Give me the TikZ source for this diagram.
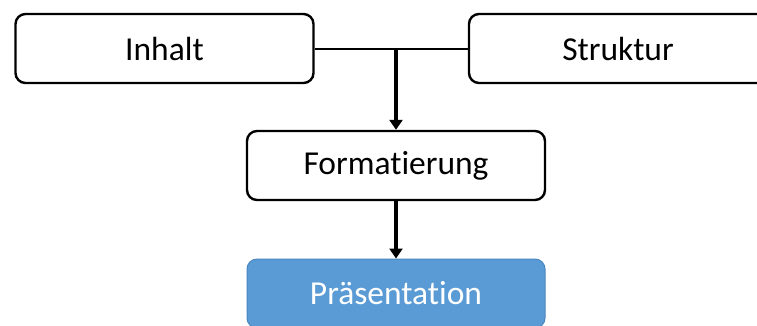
\documentclass[tikz,border=0pt]{standalone}
\usepackage{fontspec}
\setmainfont{Carlito}[Ligatures=NoCommon]
\usetikzlibrary{arrows.meta}
\definecolor{boxblue}{HTML}{5B9BD5}
\definecolor{boxblueedge}{HTML}{4A86BE}
\tikzset{
  stage/.style={draw=black, line width=2.4pt, rounded corners=10pt, fill=white,
    minimum width=298pt, minimum height=69pt, inner sep=0pt,
    font=\fontsize{33.5pt}{40pt}\selectfont},
  result/.style={stage, draw=boxblueedge, line width=1pt, fill=boxblue, text=white},
  joinline/.style={draw=black, line width=2pt},
  flow/.style={draw=black, line width=3.5pt, -{Triangle[width=13pt,length=10pt]}}
}
\begin{document}
\begin{tikzpicture}[x=1pt, y=-1pt]
  \useasboundingbox (0,0) rectangle (757,325);
  \clip (0,0) rectangle (757,325);
  \node[stage] (inhalt) at (164.5,48.5) {Inhalt};
  \node[stage] (struktur) at (618,48.5) {Struktur};
  \node[stage] (form) at (396,165.5) {Formatierung};
  \node[result] (praes) at (396,293.5) {Präsentation};
  \draw[joinline] (inhalt.east) -- (struktur.west);
  \coordinate (join) at (inhalt.east -| form.north);
  \draw[flow] (join) -- (form.north);
  \draw[flow] (form.south) -- (praes.north);
\end{tikzpicture}
\end{document}
